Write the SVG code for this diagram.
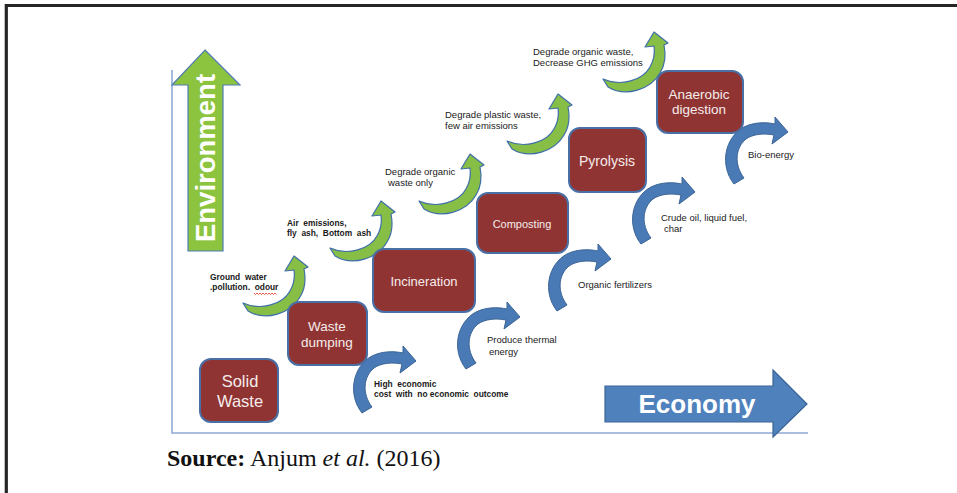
<svg xmlns="http://www.w3.org/2000/svg" xmlns:xlink="http://www.w3.org/1999/xlink" width="957" height="493" viewBox="0 0 957 493">
  <style>
    .box { fill: #903433; stroke: #4A6FA5; stroke-width: 2; }
    .boxtxt { font-family: "Liberation Sans", Arial, sans-serif; fill: #F5ECEC; text-anchor: middle; }
    .lbl { font-family: "Liberation Sans", Arial, sans-serif; font-size: 9.5px; fill: #1A1A1A; white-space: pre; }
    .lblb { font-family: "Liberation Sans", Arial, sans-serif; font-size: 8.4px; font-weight: bold; fill: #1A1A1A; white-space: pre; }
    .garrow { fill: #86BE46; stroke: #3F6FA8; stroke-width: 1.2; stroke-linejoin: round; }
    .barrow { fill: #4A7AB5; stroke: #3A6496; stroke-width: 1; stroke-linejoin: round; }
    .axis { fill: none; stroke: #8FAAD6; stroke-width: 1.6; }
  </style>
  <defs>
    <!-- curved arrow sweeping up (environmental effect), origin at tail -->
    <path id="upCurve" class="garrow" d="M0,0 C18,8 40,1 47,-12 C51,-19 52,-26 51,-33 L42,-32 L51,-47 L65,-36 L61,-34 C63,-24 62,-14 57,-6 C48,10 23,19 5,8 Z"/>
    <!-- curved arrow sweeping right (economic outcome), origin at tail -->
    <path id="rightCurve" class="barrow" d="M0,0 C-15,-19 -9,-47 10,-57 C20,-62 32,-62 41,-60 L41,-67 L54,-52 L38,-40 L40,-49 C30,-51 19,-50 12,-45 C1,-36 0,-19 10,-6 Z"/>
  </defs>

  <rect width="957" height="493" fill="#FFFFFF"/>
  <!-- page frame -->
  <path d="M6.3,493 V5.5 H957" fill="none" stroke="#262626" stroke-width="3.2"/>

  <!-- axes -->
  <g id="axes">
    <path class="axis" d="M172,70 V433 H808"/>
    <g id="environment-axis">
      <polygon points="205,50 240,85 223,85 223,251 188,251 188,85 172,85" fill="#8CC43F" stroke="#4F7DB3" stroke-width="1.2"/>
      <text transform="translate(215,158) rotate(-90)" text-anchor="middle" font-family="Liberation Sans, Arial, sans-serif" font-size="27.5" font-weight="bold" fill="#FFFFFF">Environment</text>
    </g>
    <g id="economy-axis">
      <polygon points="605,386 773,386 773,370 807,404 773,437 773,422 605,422" fill="#4F81BD" stroke="#3A6496" stroke-width="1.2"/>
      <text x="697" y="413" text-anchor="middle" font-family="Liberation Sans, Arial, sans-serif" font-size="26" font-weight="bold" fill="#FFFFFF">Economy</text>
    </g>
  </g>

  <!-- connectors: curved effect arrows -->
  <g id="connectors">
    <use xlink:href="#upCurve" transform="translate(243,303)"/>
    <use xlink:href="#upCurve" transform="translate(330,248)"/>
    <use xlink:href="#upCurve" transform="translate(419,201)"/>
    <use xlink:href="#upCurve" transform="translate(507,141)"/>
    <use xlink:href="#upCurve" transform="translate(603,79)"/>
    <use xlink:href="#rightCurve" transform="translate(362,413)"/>
    <use xlink:href="#rightCurve" transform="translate(466,369)"/>
    <use xlink:href="#rightCurve" transform="translate(557,311)"/>
    <use xlink:href="#rightCurve" transform="translate(641,244)"/>
    <use xlink:href="#rightCurve" transform="translate(734,184)"/>
  </g>

  <!-- treatment stages -->
  <g id="solid-waste">
    <rect class="box" x="200" y="359" width="78" height="63" rx="11"/>
    <text class="boxtxt" font-size="16.5"><tspan x="240" y="387">Solid</tspan><tspan x="240" y="407">Waste</tspan></text>
  </g>
  <g id="waste-dumping">
    <rect class="box" x="288" y="302" width="79" height="63" rx="11"/>
    <text class="boxtxt" font-size="13.5"><tspan x="327" y="331">Waste</tspan><tspan x="327" y="347">dumping</tspan></text>
  </g>
  <g id="incineration">
    <rect class="box" x="373" y="249" width="102" height="63" rx="11"/>
    <text class="boxtxt" font-size="13" x="424" y="286">Incineration</text>
  </g>
  <g id="composting">
    <rect class="box" x="477" y="193" width="91" height="60" rx="11"/>
    <text class="boxtxt" font-size="11" x="522" y="228">Composting</text>
  </g>
  <g id="pyrolysis">
    <rect class="box" x="569" y="128" width="77" height="64" rx="11"/>
    <text class="boxtxt" font-size="14" x="607" y="166">Pyrolysis</text>
  </g>
  <g id="anaerobic-digestion">
    <rect class="box" x="657" y="71" width="86" height="62" rx="11"/>
    <text class="boxtxt" font-size="13.5"><tspan x="699" y="99">Anaerobic</tspan><tspan x="699" y="114">digestion</tspan></text>
  </g>

  <!-- effect labels -->
  <g id="labels">
    <text class="lblb"><tspan x="210" y="280">Ground  water</tspan><tspan x="210" y="290">.pollution.  odour</tspan></text>
    <path d="M254,293 l1.5,1.5 l1.5,-1.5 l1.5,1.5 l1.5,-1.5 l1.5,1.5 l1.5,-1.5 l1.5,1.5 l1.5,-1.5 l1.5,1.5 l1.5,-1.5 l1.5,1.5 l1.5,-1.5 l1.5,1.5 l1.5,-1.5 l1.5,1.5" fill="none" stroke="#E0302A" stroke-width="0.8"/>
    <text class="lblb"><tspan x="287" y="226">Air  emissions,</tspan><tspan x="287" y="236">fly  ash,  Bottom  ash</tspan></text>
    <text class="lbl"><tspan x="385" y="175">Degrade organic</tspan><tspan x="388" y="186">waste only</tspan></text>
    <text class="lbl"><tspan x="445" y="118">Degrade plastic waste,</tspan><tspan x="445" y="129">few air emissions</tspan></text>
    <text class="lbl"><tspan x="533" y="55">Degrade organic waste,</tspan><tspan x="533" y="66">Decrease GHG emissions</tspan></text>
    <text class="lblb"><tspan x="374" y="387">High  economic</tspan><tspan x="374" y="397">cost  with  no economic  outcome</tspan></text>
    <text class="lbl"><tspan x="487" y="343">Produce thermal</tspan><tspan x="489" y="355">energy</tspan></text>
    <text class="lbl" x="578" y="288">Organic fertilizers</text>
    <text class="lbl"><tspan x="661" y="221">Crude oil, liquid fuel,</tspan><tspan x="664" y="232">char</tspan></text>
    <text class="lbl" x="748" y="158">Bio-energy</text>
  </g>

  <!-- citation -->
  <text x="167" y="466" font-family="Liberation Serif, 'Times New Roman', serif" font-size="24" fill="#111111"><tspan font-weight="bold">Source:</tspan> Anjum <tspan font-style="italic">et al.</tspan> (2016)</text>
</svg>
